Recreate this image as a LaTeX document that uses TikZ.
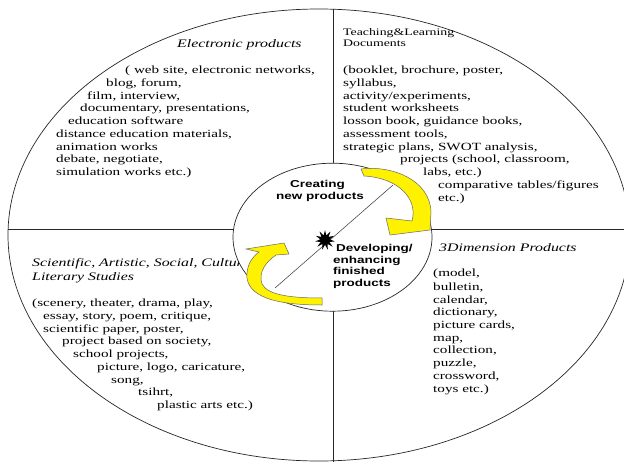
\documentclass[tikz,border=0pt]{standalone}
\usepackage{fontspec}
\setmainfont{Liberation Serif}[FakeStretch=1.38]
\newfontfamily\ctrfont{Liberation Sans}[FakeStretch=1.35]
\usetikzlibrary{shapes.geometric}
\tikzset{
  txt/.style={font=\fontsize{11}{13}\selectfont, inner sep=0pt, anchor=base west},
  ttl/.style={txt, font=\fontsize{11.5}{13}\selectfont\itshape},
  smalltxt/.style={txt, font=\fontsize{10}{12}\selectfont},
  ctr/.style={font=\ctrfont\bfseries\fontsize{10}{12}\selectfont, inner sep=0pt, anchor=base west},
  divline/.style={line width=0.7pt, draw=black!85},
  yarrow/.style={fill=yellow, draw=black!60, line width=0.5pt},
}
\begin{document}
\begin{tikzpicture}[x=1pt,y=-1pt]
\useasboundingbox (0,0) rectangle (624,463);
\clip (0,0) rectangle (624,463);
\fill[white] (0,0) rectangle (624,463);

% ---- top-left quadrant
\node[ttl] (e0) at (177,47) {Electronic products};
\node[txt] (e1) at (125,73.5) {( web site, electronic networks,};
\node[txt] (e2) at (106,86.2) {blog, forum,};
\node[txt] (e3) at (87,99) {film, interview,};
\node[txt] (e4) at (80,111.7) {documentary, presentations,};
\node[txt] (e5) at (68,124.5) {education software};
\node[txt] (e6) at (56,137.2) {distance education materials,};
\node[txt] (e7) at (56,150) {animation works};
\node[txt] (e8) at (56,162.7) {debate, negotiate,};
\node[txt] (e9) at (56,175.5) {simulation works etc.)};

% ---- top-right quadrant
\node[smalltxt] (d0) at (343,35) {Teaching\&Learning};
\node[smalltxt] (d00) at (343,46) {Documents};
\node[txt] (d1) at (343,73.5) {(booklet, brochure, poster,};
\node[txt] (d2) at (343,86.2) {syllabus,};
\node[txt] (d3) at (343,99) {activity/experiments,};
\node[txt] (d4) at (343,111.7) {student worksheets};
\node[txt] (d5) at (343,124.5) {losson book, guidance books,};
\node[txt] (d6) at (343,137.2) {assessment tools,};
\node[txt] (d7) at (343,150) {strategic plans, SWOT analysis,};
\node[txt] (d8) at (400,162.7) {projects (school, classroom,};
\node[txt] (d9) at (423,175.5) {labs, etc.)};
\node[txt] (d10) at (438,188.2) {comparative tables/figures};
\node[txt] (d11) at (438,201) {etc.)};

% ---- bottom-left quadrant
\node[ttl] (s0) at (32,266.8) {Scientific, Artistic, Social, Cultural};
\node[ttl] (s00) at (32,280.8) {Literary Studies};
\node[txt] (s1) at (32,306.8) {(scenery, theater, drama, play,};
\node[txt] (s2) at (43,319.5) {essay, story, poem, critique,};
\node[txt] (s3) at (43,332.2) {scientific paper, poster,};
\node[txt] (s4) at (62,344.9) {project based on society,};
\node[txt] (s5) at (73,357.6) {school projects,};
\node[txt] (s6) at (97,370.3) {picture, logo, caricature,};
\node[txt] (s7) at (111,383) {song,};
\node[txt] (s8) at (138,395.7) {tsihrt,};
\node[txt] (s9) at (157,408.4) {plastic arts etc.)};

% ---- bottom-right quadrant
\node[ttl] (p0) at (439,251.8) {3Dimension Products};
\node[txt] (p1) at (433,276.8) {(model,};
\node[txt] (p2) at (433,290.2) {bulletin,};
\node[txt] (p3) at (433,303.5) {calendar,};
\node[txt] (p4) at (433,315.8) {dictionary,};
\node[txt] (p5) at (433,328.8) {picture cards,};
\node[txt] (p6) at (433,341.2) {map,};
\node[txt] (p7) at (433,353.5) {collection,};
\node[txt] (p8) at (433,366.8) {puzzle,};
\node[txt] (p9) at (433,379.2) {crossword,};
\node[txt] (p10) at (433,392.5) {toys etc.)};

% ---- outer ellipse and dividers
\draw[divline] (319,235) ellipse [x radius=311pt, y radius=226pt];
\coordinate (hl) at (8,229.5);
\coordinate (hr) at (624,229.5);
\coordinate (vt) at (333,9);
\coordinate (vb) at (333,462);
\coordinate (ctr) at (333,229.5);
\draw[divline] (hl) -- (hr);
\draw[divline] (vt) -- (vb);

% ---- inner ellipse
\draw[divline, fill=white] (332.5,237.2) ellipse [x radius=99.5pt, y radius=74pt];
\coordinate (dg1) at (275,288);
\coordinate (dg2) at (393,185);
\draw[line width=0.5pt, draw=black!80] (dg1) -- (dg2);
\node[star, star points=11, star point ratio=2.1, fill=black, minimum size=20pt, inner sep=0pt] (burst) at (325,240) {};

\node[ctr, anchor=base] (c1) at (317.5,187.5) {Creating};
\node[ctr, anchor=base] (c2) at (320,199) {new products};
\node[ctr] (c3) at (336,251.7) {Developing/};
\node[ctr] (c4) at (333,263.3) {enhancing};
\node[ctr] (c5) at (333,274.8) {finished};
\node[ctr] (c6) at (333,286.3) {products};

% ---- yellow curved arrows
\draw[yarrow] (361,169) .. controls (392,165) and (430,180) .. (431,212)
  -- (430,230) -- (390,235) -- (386,218) -- (412,221)
  .. controls (418,200) and (400,178) .. (364,176) -- cycle;
\draw[yarrow] (322,305) .. controls (285,305) and (250,300) .. (247,278)
  .. controls (246,266) and (252,257) .. (259,252)
  -- (246,249) -- (284,243) -- (289,254) -- (276,255)
  .. controls (266,262) and (258,272) .. (262,284)
  .. controls (268,296) and (295,298) .. (322,298) -- cycle;
\end{tikzpicture}
\end{document}
